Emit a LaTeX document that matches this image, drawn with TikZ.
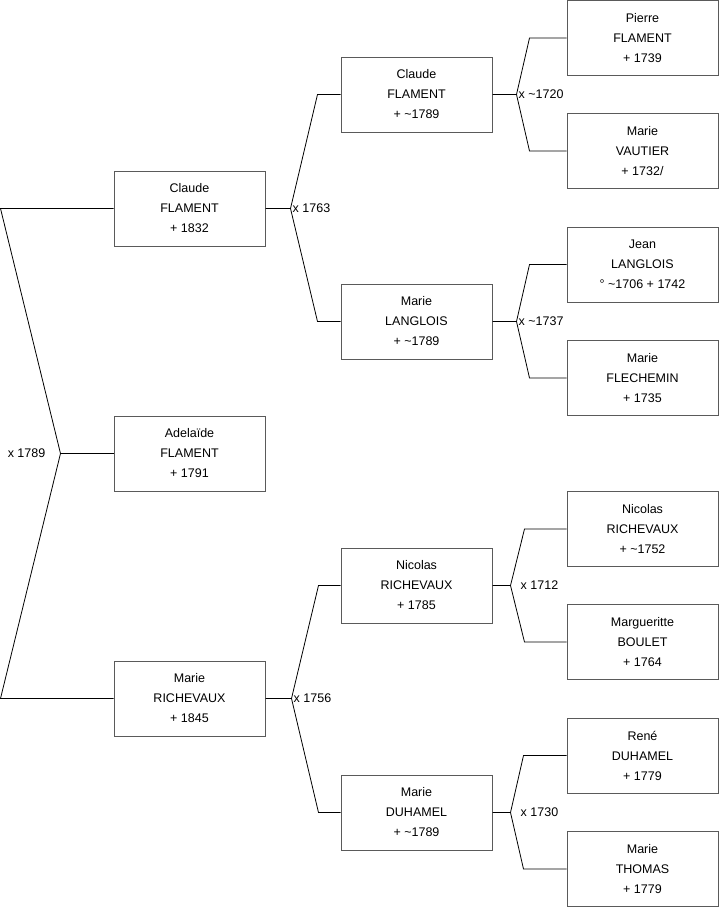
\documentclass[tikz,border=0pt]{standalone}
\usepackage{fontspec}
\setmainfont{Liberation Sans}
\usetikzlibrary{positioning,calc}
\definecolor{boxgray}{RGB}{90,90,90}

\begin{document}
\begin{tikzpicture}[x=1bp, y=-1bp,
    person/.style={draw=boxgray, line width=1bp, minimum width=151bp, minimum height=75bp,
        align=center, inner sep=0pt, font=\fontsize{12.5bp}{20bp}\selectfont},
    link/.style={draw=black, line width=0.8bp},
    union/.style={font=\fontsize{12.5bp}{15bp}\selectfont, inner sep=1bp}]
\useasboundingbox (0,0) rectangle (719,908);

% children
\node[person] (claudeF)   at (189.5,208.5) {Claude\\FLAMENT\\+ 1832};
\node[person] (adelaideF) at (189.5,453.5) {Adelaïde\\FLAMENT\\+ 1791};
\node[person] (marieR)    at (189.5,698.5) {Marie\\RICHEVAUX\\+ 1845};

% parents
\node[person] (claudeF2) at (416.5,94.5)  {Claude\\FLAMENT\\+ \textasciitilde1789};
\node[person] (marieL)   at (416.5,321.5) {Marie\\LANGLOIS\\+ \textasciitilde1789};
\node[person] (nicolasR) at (416.5,585.5) {Nicolas\\RICHEVAUX\\+ 1785};
\node[person] (marieD)   at (416.5,812.5) {Marie\\DUHAMEL\\+ \textasciitilde1789};

% grandparents
\begin{scope}[every node/.append style={minimum height=76bp}]
    \node[person] (pierreF)   at (642.5,38)    {Pierre\\FLAMENT\\+ 1739};
    \node[person] (marieV)    at (642.5,151)   {Marie\\VAUTIER\\+ 1732/};
    \node[person] (jeanL)     at (642.5,264.5) {Jean\\LANGLOIS\\° \textasciitilde1706 + 1742};
    \node[person] (marieFl)   at (642.5,378)   {Marie\\FLECHEMIN\\+ 1735};
    \node[person] (nicolasR2) at (642.5,529)   {Nicolas\\RICHEVAUX\\+ \textasciitilde1752};
    \node[person] (marguerB)  at (642.5,642)   {Margueritte\\BOULET\\+ 1764};
    \node[person] (reneD)     at (642.5,755.5) {René\\DUHAMEL\\+ 1779};
    \node[person] (marieT)    at (642.5,869)   {Marie\\THOMAS\\+ 1779};
\end{scope}

% root fork
\coordinate (rtop)  at ([xshift=-113bp]claudeF.west);
\coordinate (rbot)  at ([xshift=-113bp]marieR.west);
\coordinate (vroot) at ([xshift=-53bp]adelaideF.west);
\draw[link] (claudeF.west) -- (rtop) -- (vroot) -- (rbot) -- (marieR.west);
\draw[link] (vroot) -- (adelaideF.west);
\node[union, anchor=east] (x1789) at ([xshift=-14bp]vroot) {x 1789};

% marriage forks
\foreach \fa/\hi/\lo/\dv/\db/\dl/\yr in {
    claudeF/claudeF2/marieL/25/23/1/x 1763,
    marieR/nicolasR/marieD/26/22/1/x 1756,
    claudeF2/pierreF/marieV/24/37/1/x \textasciitilde1720,
    marieL/jeanL/marieFl/24/37/1/x \textasciitilde1737,
    nicolasR/nicolasR2/marguerB/18/42/9/x 1712,
    marieD/reneD/marieT/18/43/9/x 1730}{
    \coordinate (v\fa) at ([xshift=\dv bp]\fa.east);
    \draw[link] (\fa.east) -- (v\fa) -- ([xshift=-\db bp]\hi.west) -- (\hi.west);
    \draw[link] (v\fa) -- ([xshift=-\db bp]\lo.west) -- (\lo.west);
    \node[union, anchor=west] (x\fa) at ([xshift=\dl bp]v\fa) {\yr};
}
\end{tikzpicture}
\end{document}
